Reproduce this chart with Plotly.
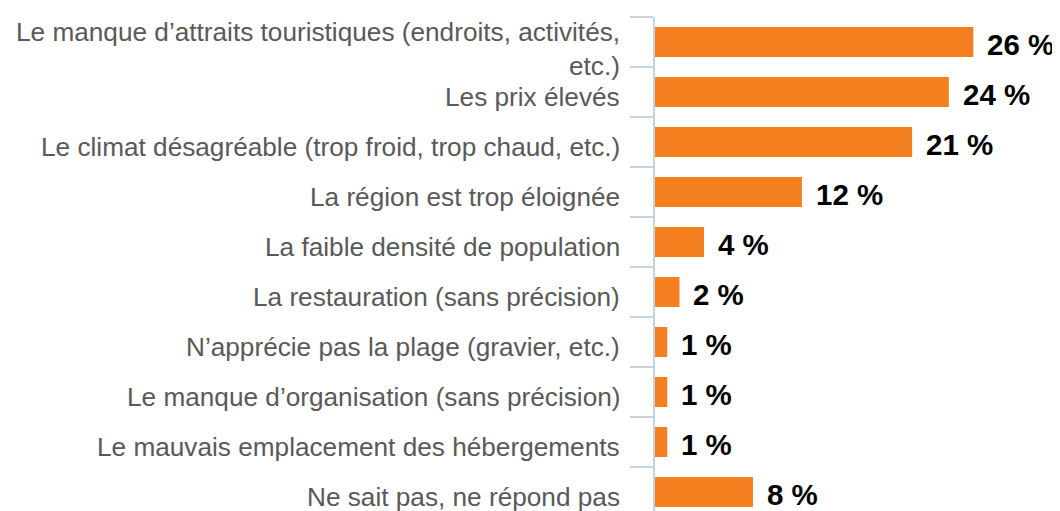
import plotly.graph_objects as go

categories = [
    "Le manque d’attraits touristiques (endroits, activités, etc.)",
    "Les prix élevés",
    "Le climat désagréable (trop froid, trop chaud, etc.)",
    "La région est trop éloignée",
    "La faible densité de population",
    "La restauration (sans précision)",
    "N’apprécie pas la plage (gravier, etc.)",
    "Le manque d’organisation (sans précision)",
    "Le mauvais emplacement des hébergements",
    "Ne sait pas, ne répond pas",
]
values = [26, 24, 21, 12, 4, 2, 1, 1, 1, 8]
value_labels = [f"{v} %" for v in values]
first_label_lines = ["Le manque d’attraits touristiques (endroits, activités,", "etc.)"]

ORANGE = "#F47F1F"
AXIS = "#C5D4E3"
GRAY = "#595959"
FONT = "Liberation Sans, Arial, sans-serif"

fig = go.Figure(go.Bar(
    x=values, y=categories, orientation="h",
    marker=dict(color=ORANGE, line=dict(width=0)),
    width=0.6, hoverinfo="skip",
))

annotations = []
# value labels
for c, v, t in zip(categories, values, value_labels):
    annotations.append(dict(
        x=v, y=c, xref="x", yref="y", text=f"<b>{t}</b>", showarrow=False,
        xanchor="left", yanchor="middle", xshift=12, yshift=-2,
        font=dict(family=FONT, size=29.5, color="#000000"),
    ))
# category labels
for i, c in enumerate(categories):
    if i == 0:
        for line, shift in zip(first_label_lines, [10, -23.5]):
            annotations.append(dict(
                x=0, y=c, xref="paper", yref="y", text=line, showarrow=False,
                xanchor="right", yanchor="middle", xshift=-33, yshift=shift,
                font=dict(family=FONT, size=26.2, color=GRAY),
            ))
    else:
        annotations.append(dict(
            x=0, y=c, xref="paper", yref="y", text=c, showarrow=False,
            xanchor="right", yanchor="middle", xshift=-33, yshift=-5,
            font=dict(family=FONT, size=26.2, color=GRAY),
        ))

fig.update_layout(
    width=1052, height=503,
    margin=dict(l=647, r=1, t=9, b=0, autoexpand=False),
    paper_bgcolor="white", plot_bgcolor="white",
    showlegend=False,
    annotations=annotations,
    xaxis=dict(range=[0, 33], visible=False, fixedrange=True, automargin=False),
    yaxis=dict(
        type="category", automargin=False,
        range=[9.38, -0.5],
        tickson="boundaries", ticks="outside", ticklen=23, tickwidth=2, tickcolor=AXIS,
        showticklabels=False,
        showline=True, linecolor=AXIS, linewidth=2, layer="below traces",
        showgrid=False, zeroline=False, fixedrange=True,
    ),
)

fig.write_html("out.html")
